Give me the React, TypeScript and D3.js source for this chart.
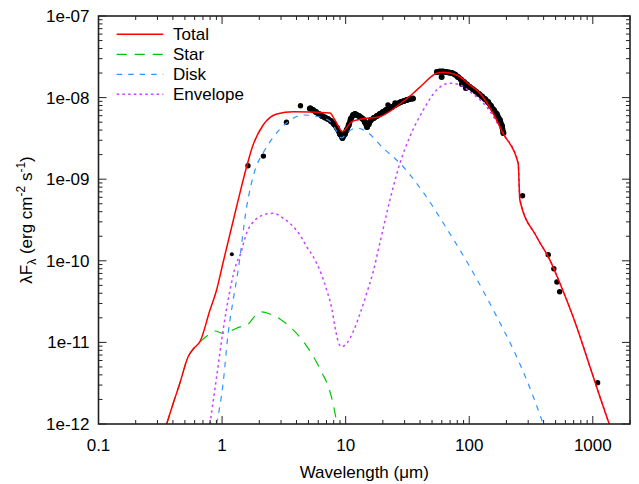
import React, { useRef, useEffect } from 'react';
import * as d3 from 'd3';

// model components: [wavelength (um), lambda F_lambda (erg cm^-2 s^-1)]
const total: [number, number][] = [
  [0.356, 1e-12], [0.403, 1.81e-12], [0.456, 3.18e-12], [0.53, 6.62e-12], [0.593, 8.53e-12],
  [0.662, 1.02e-11], [0.798, 2.49e-11], [0.903, 4.39e-11], [1.017, 9.4e-11], [1.31, 4.6e-10],
  [1.58, 1.42e-9], [1.78, 2.62e-9], [2.15, 4.61e-9], [2.77, 6.29e-9], [3.77, 6.72e-9],
  [7.46, 6.48e-9], [8.19, 5.31e-9], [9.42, 3.84e-9], [11.2, 5.07e-9], [13.1, 5.42e-9],
  [18.9, 5.83e-9], [27.5, 8.35e-9], [35.2, 1.13e-8], [42.5, 1.47e-8], [54.5, 1.99e-8],
  [61.6, 2.04e-8], [79.1, 1.89e-8], [101, 1.43e-8], [122, 1.13e-8], [156, 6.42e-9],
  [188, 3.65e-9], [249, 1.57e-9], [257, 5.56e-10], [351, 1.97e-10], [450, 1.02e-10],
  [542, 5.3e-11], [740, 1.56e-11], [948, 5.04e-12], [1141, 2.16e-12], [1358, 1e-12],
];

const star: [number, number][] = [
  [0.356, 1e-12], [0.403, 1.81e-12], [0.456, 3.18e-12], [0.53, 6.62e-12], [0.593, 8.53e-12],
  [0.662, 1.02e-11], [0.755, 1.2e-11], [0.877, 1.38e-11], [0.998, 1.3e-11], [1.16, 1.38e-11],
  [1.4, 1.55e-11], [1.59, 1.63e-11], [1.88, 2.17e-11], [2.1, 2.36e-11], [2.44, 2.23e-11],
  [2.94, 1.94e-11], [3.54, 1.55e-11], [4.27, 1.16e-11], [5.14, 7.85e-12], [5.86, 5.6e-12],
  [6.43, 4.22e-12], [7.06, 3.18e-12], [7.89, 1.81e-12], [8.51, 1e-12],
];

const disk: [number, number][] = [
  [0.903, 1e-12], [1.02, 3.18e-12], [1.12, 1.3e-11], [1.23, 3.31e-11], [1.35, 7.71e-11],
  [1.58, 4.56e-10], [1.85, 1.3e-9], [2.15, 2.1e-9], [2.6, 3.29e-9], [3.33, 4.89e-9],
  [4.54, 6.12e-9], [6.2, 5.78e-9], [7.71, 4.89e-9], [8.35, 4.01e-9], [9.28, 3.2e-9],
  [10.4, 3.79e-9], [12.3, 4.24e-9], [14.8, 3.82e-9], [20.2, 2.39e-9], [27.5, 1.57e-9],
  [41.2, 7.38e-10], [65.6, 2.5e-10], [101, 8.47e-11], [167, 2.07e-11], [242, 6.68e-12],
  [330, 2.16e-12], [397, 1e-12],
];

const envelope: [number, number][] = [
  [0.798, 1e-12], [0.903, 3.77e-12], [1.02, 1.42e-11], [1.16, 4.39e-11], [1.31, 9.4e-11],
  [1.4, 1.18e-10], [1.58, 2.19e-10], [1.85, 3.16e-10], [2.15, 3.64e-10], [2.6, 3.82e-10],
  [3.13, 3.32e-10], [3.77, 2.62e-10], [4.27, 2.07e-10], [4.83, 1.49e-10], [5.47, 1.12e-10],
  [6.4, 6.7e-11], [7.02, 4.39e-11], [7.71, 2.62e-11], [8.19, 1.56e-11], [8.71, 1.02e-11],
  [9.28, 8.86e-12], [10.2, 9.75e-12], [11.5, 1.35e-11], [13.1, 2.27e-11], [14.8, 4.0e-11],
  [16.7, 7.35e-11], [18.9, 1.64e-10], [21.5, 3.82e-10], [24.3, 8.09e-10], [27.5, 1.57e-9],
  [33.1, 3.32e-9], [42.5, 7.05e-9], [54.5, 1.24e-8], [69.8, 1.5e-8], [84.1, 1.43e-8],
  [101, 1.18e-8], [138, 7.73e-9], [188, 3.65e-9], [249, 1.57e-9], [257, 5.56e-10],
  [351, 1.97e-10], [450, 1.02e-10], [542, 5.3e-11], [740, 1.56e-11], [948, 5.04e-12],
  [1141, 2.16e-12], [1358, 1e-12],
];

// observations
const photometry: [number, number][] = [
  [1.62, 1.46e-9], [2.16, 1.92e-9], [3.32, 4.99e-9], [4.31, 7.96e-9], [5.21, 7.39e-9],
  [22.0, 8.11e-9], [25.1, 8.58e-9], [270, 6.28e-10], [436, 1.19e-10], [484, 8.0e-11],
  [512, 5.5e-11], [539, 4.18e-11], [1094, 3.21e-12],
];
const photometryFaint: [number, number][] = [[1.2, 1.2e-10]];

const irsSpectrum: [number, number][] = [
  [5.14, 7.35e-9], [5.44, 7.05e-9], [5.75, 6.66e-9], [6.08, 6.29e-9], [6.43, 5.95e-9],
  [6.8, 5.7e-9], [7.19, 5.47e-9], [7.6, 5.16e-9], [8.04, 4.75e-9], [8.51, 4.24e-9],
  [8.99, 3.58e-9], [9.42, 3.2e-9], [9.87, 3.58e-9], [10.2, 4.01e-9], [10.6, 4.61e-9],
  [11.0, 5.47e-9], [11.5, 6.12e-9], [11.9, 6.29e-9], [12.3, 6.12e-9], [12.8, 5.95e-9],
  [13.3, 5.7e-9], [13.8, 5.47e-9], [14.3, 5.02e-9], [14.9, 4.36e-9], [15.4, 4.75e-9],
  [16.0, 5.31e-9], [16.9, 5.62e-9], [17.9, 5.95e-9], [18.9, 6.29e-9], [20.0, 6.66e-9],
  [21.2, 7.05e-9], [22.4, 7.35e-9], [23.7, 7.67e-9], [25.1, 8.11e-9], [26.5, 8.46e-9],
  [28.0, 8.83e-9], [29.6, 9.09e-9], [31.3, 9.35e-9], [33.1, 9.61e-9], [35.0, 9.75e-9],
];

const farIrSpectrum: [number, number][] = [
  [54.8, 2.06e-8], [57.9, 2.09e-8], [61.3, 2.09e-8], [64.8, 2.06e-8],
  [68.5, 2.03e-8], [72.4, 2.0e-8], [76.6, 1.92e-8], [81.0, 1.79e-8], [85.7, 1.67e-8],
  [90.6, 1.55e-8], [95.8, 1.45e-8], [101, 1.35e-8],
  [107, 1.27e-8], [113, 1.19e-8], [120, 1.11e-8], [127, 1.03e-8], [134, 9.61e-9],
  [142, 8.83e-9], [150, 7.89e-9], [158, 7.05e-9], [167, 6.29e-9], [177, 5.31e-9],
  [184, 4.49e-9], [189, 3.68e-9],
];
const farIrScatter: [number, number][] = [[59.8, 1.79e-8], [87.3, 1.47e-8], [94.0, 1.31e-8]];

const xTickValues = [0.1, 1, 10, 100, 1000];
const xTickLabels = ['0.1', '1', '10', '100', '1000'];
const yTickValues = [1e-12, 1e-11, 1e-10, 1e-9, 1e-8, 1e-7];
const yTickLabels = ['1e-12', '1e-11', '1e-10', '1e-09', '1e-08', '1e-07'];

const legendNames = ['Total', 'Star', 'Disk', 'Envelope'];

const App = () => {
  const svgRef = useRef<SVGSVGElement>(null);

  useEffect(() => {
    const width = 639;
    const height = 484;
    const margin = { top: 16, right: 9, bottom: 60, left: 98.5 };
    const font = '"Liberation Sans", Arial, sans-serif';

    const svg = d3.select(svgRef.current);
    svg.selectAll('*').remove();

    const x = d3.scaleLog().domain([0.1, 2000]).range([margin.left, width - margin.right]);
    const y = d3.scaleLog().domain([1e-12, 1e-7]).range([height - margin.bottom, margin.top]);
    const [x0, x1] = x.range();
    const [y0, y1] = y.range();

    svg
      .append('defs')
      .append('clipPath')
      .attr('id', 'plot-clip')
      .append('rect')
      .attr('x', x0)
      .attr('y', y1)
      .attr('width', x1 - x0)
      .attr('height', y0 - y1);

    const plot = svg.append('g').attr('clip-path', 'url(#plot-clip)');

    const linear = d3
      .line<[number, number]>()
      .x((d) => x(d[0]))
      .y((d) => y(d[1]));

    // spectra: dense points, drawn as a thick band
    [irsSpectrum, farIrSpectrum].forEach((spec) => {
      plot
        .append('path')
        .datum(spec)
        .attr('fill', 'none')
        .attr('stroke', '#000')
        .attr('stroke-width', 5.5)
        .attr('stroke-linejoin', 'round')
        .attr('stroke-linecap', 'round')
        .attr('d', linear);
    });

    const drawDots = (data: [number, number][], r: number) => {
      plot
        .append('g')
        .selectAll('circle')
        .data(data)
        .join('circle')
        .attr('cx', (d) => x(d[0]))
        .attr('cy', (d) => y(d[1]))
        .attr('r', r)
        .attr('fill', '#000');
    };
    drawDots(irsSpectrum, 3);
    drawDots(farIrSpectrum, 3);
    drawDots(farIrScatter, 3);
    drawDots(photometry, 2.7);
    drawDots(photometryFaint, 2);

    const line = d3
      .line<[number, number]>()
      .x((d) => x(d[0]))
      .y((d) => y(d[1]))
      .curve(d3.curveMonotoneX);

    const styles = [
      { data: total, color: '#ff0000', dash: null, w: 1.5 },
      { data: star, color: '#00c800', dash: '10,8', w: 1.2 },
      { data: disk, color: '#2e95ff', dash: '5.5,6', w: 1.2 },
      { data: envelope, color: '#cc40ff', dash: '2.5,3.2', w: 1.5 },
    ];

    // draw order: disk, star, envelope, then total on top
    [2, 1, 3, 0].forEach((i) => {
      const s = styles[i];
      plot
        .append('path')
        .datum(s.data)
        .attr('fill', 'none')
        .attr('stroke', s.color)
        .attr('stroke-width', s.w)
        .attr('stroke-dasharray', s.dash)
        .attr('d', line);
    });

    // frame and ticks (inward, mirrored)
    const axes = svg.append('g').attr('stroke', '#222');
    const isMajor = (t: number) => Math.abs(Math.log10(t) - Math.round(Math.log10(t))) < 1e-6;

    x.ticks().forEach((t) => {
      const len = isMajor(t) ? 8 : 4;
      const px = x(t);
      axes.append('line').attr('x1', px).attr('x2', px).attr('y1', y0).attr('y2', y0 - len);
      axes.append('line').attr('x1', px).attr('x2', px).attr('y1', y1).attr('y2', y1 + len);
    });
    y.ticks().forEach((t) => {
      const len = isMajor(t) ? 8 : 4;
      const py = y(t);
      axes.append('line').attr('x1', x0).attr('x2', x0 + len).attr('y1', py).attr('y2', py);
      axes.append('line').attr('x1', x1).attr('x2', x1 - len).attr('y1', py).attr('y2', py);
    });

    axes
      .append('rect')
      .attr('x', x0)
      .attr('y', y1)
      .attr('width', x1 - x0)
      .attr('height', y0 - y1)
      .attr('fill', 'none')
      .attr('stroke-width', 1.6);

    // tick labels
    svg
      .append('g')
      .selectAll('text')
      .data(xTickValues)
      .join('text')
      .attr('x', (d) => x(d))
      .attr('y', y0 + 27)
      .attr('text-anchor', 'middle')
      .attr('font-family', font)
      .attr('font-size', 17)
      .text((d, i) => xTickLabels[i]);

    svg
      .append('g')
      .selectAll('text')
      .data(yTickValues)
      .join('text')
      .attr('x', x0 - 9)
      .attr('y', (d) => y(d) + 6)
      .attr('text-anchor', 'end')
      .attr('font-family', font)
      .attr('font-size', 17)
      .text((d, i) => yTickLabels[i]);

    // axis titles
    svg
      .append('text')
      .attr('x', (x0 + x1) / 2)
      .attr('y', 478)
      .attr('text-anchor', 'middle')
      .attr('font-family', font)
      .attr('font-size', 17)
      .text('Wavelength (μm)');

    const yTitle = svg
      .append('text')
      .attr('transform', `translate(32,${(y0 + y1) / 2}) rotate(-90)`)
      .attr('text-anchor', 'middle')
      .attr('font-family', font)
      .attr('font-size', 17);
    yTitle.append('tspan').text('λF');
    yTitle.append('tspan').attr('font-size', 12).attr('dy', 4).text('λ');
    yTitle.append('tspan').attr('dy', -4).text(' (erg cm');
    yTitle.append('tspan').attr('font-size', 12).attr('dy', -7).text('-2');
    yTitle.append('tspan').attr('dy', 7).text(' s');
    yTitle.append('tspan').attr('font-size', 12).attr('dy', -7).text('-1');
    yTitle.append('tspan').attr('dy', 7).text(')');

    // legend
    const legend = svg.append('g');
    legendNames.forEach((name, i) => {
      const s = styles[i];
      const ly = 34.3 + i * 20;
      legend
        .append('line')
        .attr('x1', 116.7)
        .attr('x2', 163.3)
        .attr('y1', ly)
        .attr('y2', ly)
        .attr('stroke', s.color)
        .attr('stroke-width', s.w)
        .attr('stroke-dasharray', s.dash);
      legend
        .append('text')
        .attr('x', 173)
        .attr('y', ly + 6)
        .attr('font-family', font)
        .attr('font-size', 17)
        .text(name);
    });
  }, []);

  return (
    <svg
      ref={svgRef}
      width={639}
      height={484}
      style={{ position: 'absolute', left: 0, top: 0, background: '#fff' }}
    />
  );
};

export default App;
